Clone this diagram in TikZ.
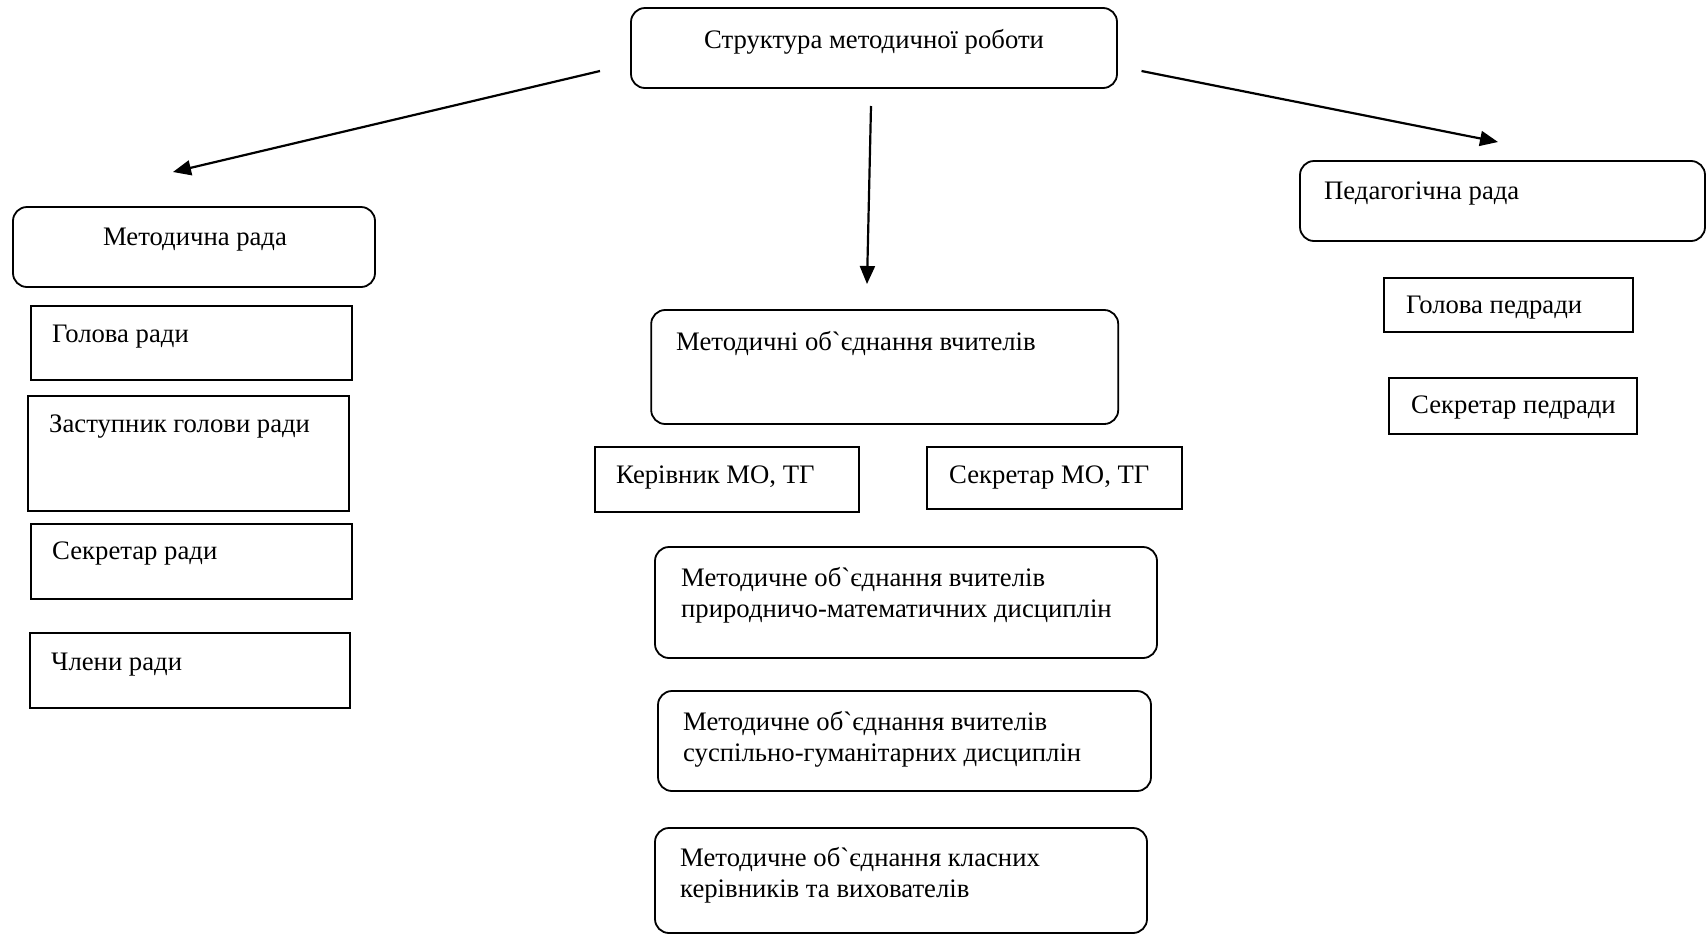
\documentclass[tikz,border=0pt]{standalone}
\usepackage{fontspec}
\setmainfont{Liberation Serif}
\newfontfamily\gfont{Liberation Serif}
\usetikzlibrary{arrows.meta}
\newcommand{\grv}{{\gfont\char96\relax}}
\begin{document}
\begin{tikzpicture}[x=1pt,y=-1pt,
  every node/.style={font=\fontsize{26.7}{31}\selectfont},
  rbox/.style={draw=black,line width=1.8pt,rounded corners=14pt,inner sep=0pt},
  sbox/.style={draw=black,line width=1.8pt,inner sep=0pt},
  lbl/.style={inner sep=0pt,anchor=base west},
  arr/.style={line width=2.2pt,-{Triangle[length=18pt,width=15pt]}}]
\useasboundingbox (0,0) rectangle (1706,935);
% boxes
\node[rbox,minimum width=486pt,minimum height=80pt] (top) at (874,48) {};
\node[rbox,minimum width=362pt,minimum height=80pt] (mr) at (194,247) {};
\node[rbox,minimum width=405pt,minimum height=80pt] (pr) at (1502.5,201) {};
\node[sbox,minimum width=249pt,minimum height=54pt] (gp) at (1508.5,305) {};
\node[sbox,minimum width=248pt,minimum height=56pt] (sp) at (1513,406) {};
\node[sbox,minimum width=321pt,minimum height=74pt] (gr) at (191.5,343) {};
\node[sbox,minimum width=321pt,minimum height=115pt] (zr) at (188.5,453.5) {};
\node[sbox,minimum width=321pt,minimum height=75pt] (sr) at (191.5,561.5) {};
\node[sbox,minimum width=320pt,minimum height=75pt] (cr) at (190,670.5) {};
\node[rbox,minimum width=467pt,minimum height=114pt] (mo) at (884.7,367) {};
\node[sbox,minimum width=264pt,minimum height=65pt] (km) at (726.7,479.5) {};
\node[sbox,minimum width=255pt,minimum height=62pt] (sm) at (1054.5,478) {};
\node[rbox,minimum width=502pt,minimum height=111pt] (pm) at (906,602.5) {};
\node[rbox,minimum width=493pt,minimum height=100pt] (sg) at (904.5,741) {};
\node[rbox,minimum width=492pt,minimum height=105pt] (kv) at (901,880.5) {};
% texts
\node[inner sep=0pt,anchor=base] (ttop) at (874,48) {Структура методичної роботи};
\node[inner sep=0pt,anchor=base] (tmr) at (195,245) {Методична рада};
\node[lbl] (tpr) at (1324,199) {Педагогічна рада};
\node[lbl] (tgp) at (1406,313) {Голова педради};
\node[lbl] (tsp) at (1411,413) {Секретар педради};
\node[lbl] (tgr) at (52,342) {Голова ради};
\node[lbl] (tzr) at (49,432) {Заступник голови ради};
\node[lbl] (tsr) at (52,559) {Секретар ради};
\node[lbl] (tcr) at (51,670) {Члени ради};
\node[lbl] (tmo) at (676,350) {Методичні об\grv єднання вчителів};
\node[lbl] (tkm) at (616,483) {Керівник МО, ТГ};
\node[lbl] (tsm) at (949,483) {Секретар МО, ТГ};
\node[lbl] (tpm) at (681,586) {\begin{tabular}[t]{@{}l@{}}Методичне об\grv єднання вчителів\\природничо-математичних дисциплін\end{tabular}};
\node[lbl] (tsg) at (683,730) {\begin{tabular}[t]{@{}l@{}}Методичне об\grv єднання вчителів\\суспільно-гуманітарних дисциплін\end{tabular}};
\node[lbl] (tkv) at (680,866) {\begin{tabular}[t]{@{}l@{}}Методичне об\grv єднання класних\\керівників та вихователів\end{tabular}};
% arrows
\coordinate (aLs) at (600,71);
\coordinate (aLe) at (173,172);
\coordinate (aDs) at (871,106);
\coordinate (aDe) at (867,284);
\coordinate (aRs) at (1141.5,71);
\coordinate (aRe) at (1498,142);
\draw[arr] (aLs) -- (aLe);
\draw[arr] (aDs) -- (aDe);
\draw[arr] (aRs) -- (aRe);
\end{tikzpicture}
\end{document}
